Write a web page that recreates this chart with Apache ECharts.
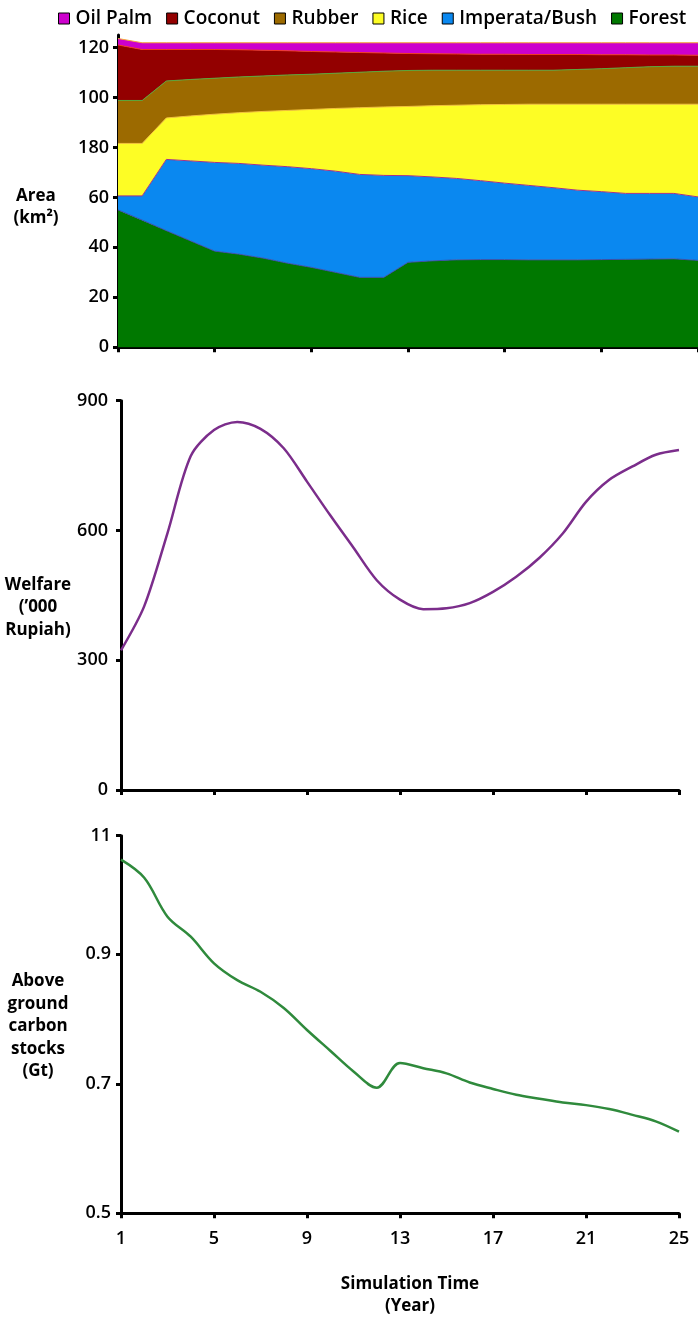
<!DOCTYPE html>
<html>
<head>
<meta charset="utf-8">
<script src="https://cdn.jsdelivr.net/npm/echarts@6/dist/echarts.min.js"></script>
<style>
html,body{margin:0;padding:0;background:#fff;}
#c{width:698px;height:1317px;}
</style>
</head>
<body>
<div id="c"></div>
<script>
const years = ['1','2','3','4','5','6','7','8','9','10','11','12','13','14','15','16','17','18','19','20','21','22','23','24','25'];

// Land use areas (km2), per year
const forest   = [55, 50.9, 46.7, 42.6, 38.5, 37.3, 35.7, 33.7, 32, 30, 28, 28, 34, 34.6, 35, 35.1, 35.1, 35, 35, 35, 35.1, 35.2, 35.3, 35.4, 34.8];
const imperata = [5.6, 9.7, 28.5, 32.0, 35.5, 36.3, 37.2, 38.6, 39.5, 40.5, 41.2, 40.8, 34.7, 33.6, 32.6, 31.6, 30.6, 29.8, 28.9, 27.9, 27.2, 26.4, 26.3, 26.2, 25.4];
const rice     = [21.0, 21.0, 16.6, 18.0, 19.3, 20.3, 21.5, 22.5, 23.7, 25.1, 26.7, 27.4, 27.7, 28.5, 29.3, 30.4, 31.5, 32.5, 33.4, 34.4, 35.0, 35.7, 35.7, 35.7, 37.1];
const rubber   = [17.2, 17.2, 14.8, 14.6, 14.4, 14.3, 14.2, 14.2, 14.1, 14.1, 14.2, 14.3, 14.4, 14.2, 14.0, 13.8, 13.7, 13.6, 13.6, 13.9, 14.2, 14.6, 15.0, 15.2, 15.2];
const coconut  = [22.2, 20.4, 12.6, 12.0, 11.5, 10.9, 10.3, 9.7, 9.1, 8.5, 7.9, 7.3, 6.8, 6.6, 6.5, 6.4, 6.4, 6.3, 6.3, 6.0, 5.6, 5.2, 4.7, 4.5, 4.4];
const oilPalm  = [2.6, 2.7, 2.7, 2.7, 2.7, 2.8, 3.0, 3.2, 3.5, 3.7, 3.9, 4.1, 4.3, 4.4, 4.5, 4.6, 4.6, 4.7, 4.7, 4.7, 4.8, 4.8, 4.9, 4.9, 5.0];

// Welfare ('000 Rupiah)
const welfare = [323, 425, 594, 772, 832, 851, 835, 790, 713, 635, 560, 485, 440, 418, 420, 432, 458, 493, 537, 593, 666, 717, 748, 775, 786];

// Above ground carbon stocks (Gt)
const carbon = [1.046, 1.018, 0.958, 0.927, 0.886, 0.860, 0.842, 0.817, 0.783, 0.751, 0.719, 0.694, 0.732, 0.724, 0.716, 0.702, 0.692, 0.683, 0.677, 0.671, 0.667, 0.661, 0.652, 0.642, 0.626];

// Tick values and labels (as printed in the figure)
const areaTickValues = [0, 20, 40, 60, 80, 100, 120];
const areaTickLabels = ['0', '20', '40', '60', '180', '100', '120'];
const welfareTickValues = [0, 300, 600, 900];
const welfareTickLabels = ['0', '300', '600', '900'];
const carbonTickValues = [0.5, 0.7, 0.9, 1.083];
const carbonTickLabels = ['0.5', '0.7', '0.9', '11'];

const legendNames = ['Oil Palm', 'Coconut', 'Rubber', 'Rice', 'Imperata/Bush', 'Forest'];

const FONT = 'Open Sans';
const chart = echarts.init(document.getElementById('c'), null, {renderer: 'canvas'});

const axisLine = {show: true, lineStyle: {color: '#000', width: 3}};
const axisTick = {show: true, length: 5, lineStyle: {color: '#000', width: 3}};
const tickFont = {color: '#000', fontFamily: FONT, fontSize: 18, fontWeight: 600};

function xAxis(gridIndex, showLabels) {
  return {
    type: 'category', gridIndex: gridIndex, data: years, boundaryGap: false,
    axisLine: axisLine,
    axisTick: Object.assign({}, axisTick, {interval: 3, alignWithLabel: true}),
    axisLabel: Object.assign({}, tickFont, {show: showLabels, interval: 3, margin: 17}),
    splitLine: {show: false}
  };
}
function yAxis(gridIndex, min, max, vals, labels, margin) {
  return {
    type: 'value', gridIndex: gridIndex, min: min, max: max,
    axisLine: axisLine,
    axisTick: Object.assign({}, axisTick, {customValues: vals}),
    axisLabel: Object.assign({}, tickFont, {
      customValues: vals, margin: margin,
      formatter: function (v) {
        for (let i = 0; i < vals.length; i++) if (Math.abs(vals[i] - v) < 1e-6) return labels[i];
        return '';
      }
    }),
    splitLine: {show: false}
  };
}

function areaSeries(name, data, color, edge) {
  return {
    name: name, type: 'line', stack: 'land', xAxisIndex: 0, yAxisIndex: 0,
    data: data, showSymbol: false, symbol: 'none',
    color: color,
    itemStyle: {color: color},
    lineStyle: {color: edge, width: 1},
    areaStyle: {color: color, opacity: 1},
    emphasis: {disabled: true}
  };
}

const titleStyle = {fill: '#000', font: 'bold 17px "' + FONT + '"', textAlign: 'center', textVerticalAlign: 'middle', lineHeight: 22.5};

const option = {
  animation: false,
  backgroundColor: '#fff',
  legend: {
    data: legendNames,
    left: 53, top: 4,
    icon: 'rect', itemWidth: 11, itemHeight: 11, itemGap: 14,
    itemStyle: {borderColor: '#000', borderWidth: 1},
    textStyle: {color: '#000', fontFamily: FONT, fontSize: 19, fontWeight: 600, padding: [0, 0, 0, 1]},
    selectedMode: false
  },
  grid: [
    {left: 118, top: 35, width: 580, height: 312.3, containLabel: false},
    {left: 121, top: 400.7, width: 558, height: 389.3, containLabel: false},
    {left: 121, top: 835.7, width: 558, height: 377.6, containLabel: false}
  ],
  xAxis: [xAxis(0, false), xAxis(1, false), xAxis(2, true)],
  yAxis: [
    yAxis(0, 0, 125, areaTickValues, areaTickLabels, 9),
    yAxis(1, 0, 900, welfareTickValues, welfareTickLabels, 13),
    yAxis(2, 0.5, 1.083, carbonTickValues, carbonTickLabels, 10)
  ],
  series: [
    areaSeries('Forest', forest, '#007800', '#3b4fa8'),
    areaSeries('Imperata/Bush', imperata, '#0a88f0', '#a0308c'),
    areaSeries('Rice', rice, '#fdfd25', '#f2c23a'),
    areaSeries('Rubber', rubber, '#9c6a00', '#5aa83a'),
    areaSeries('Coconut', coconut, '#930000', '#f03a22'),
    areaSeries('Oil Palm', oilPalm, '#cc00cc', '#f5a83a'),
    {
      name: 'Welfare', type: 'line', xAxisIndex: 1, yAxisIndex: 1, data: welfare,
      smooth: 0.3, showSymbol: false, symbol: 'none',
      lineStyle: {color: '#7b2d8b', width: 2.5}, color: '#7b2d8b'
    },
    {
      name: 'Carbon', type: 'line', xAxisIndex: 2, yAxisIndex: 2, data: carbon,
      smooth: 0.35, showSymbol: false, symbol: 'none',
      lineStyle: {color: '#2f8a3c', width: 2.5}, color: '#2f8a3c'
    }
  ],
  graphic: [
    {type: 'text', x: 36, y: 207, style: Object.assign({}, titleStyle, {text: 'Area\n(km²)'})},
    {type: 'text', x: 38, y: 607.5, style: Object.assign({}, titleStyle, {text: 'Welfare\n(\u2019000\nRupiah)'})},
    {type: 'text', x: 38, y: 1026.5, style: Object.assign({}, titleStyle, {text: 'Above\nground\ncarbon\nstocks\n(Gt)'})},
    {type: 'text', x: 410, y: 1295, style: Object.assign({}, titleStyle, {text: 'Simulation Time\n(Year)'})}
  ]
};
chart.setOption(option);
</script>
</body>
</html>
